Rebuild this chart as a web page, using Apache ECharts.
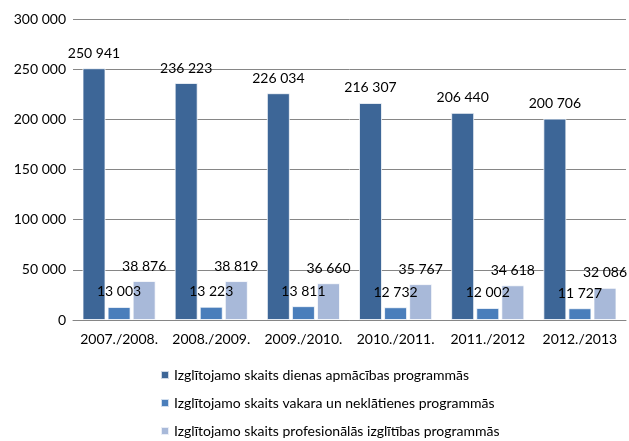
<!DOCTYPE html>
<html>
<head>
<meta charset="utf-8">
<script src="https://cdn.jsdelivr.net/npm/echarts@6/dist/echarts.min.js"></script>
<style>
  html, body { margin: 0; padding: 0; background: #ffffff; }
  #chart { width: 629px; height: 441px; }
</style>
</head>
<body>
<div id="chart"></div>
<script>
// macību gadi
const years = ["2007./2008.", "2008./2009.", "2009./2010.", "2010./2011.", "2011./2012", "2012./2013"];
// dienas apmācības programmas
const dienas = [250941, 236223, 226034, 216307, 206440, 200706];
// vakara un neklātienes programmas
const vakara = [13003, 13223, 13811, 12732, 12002, 11727];
// profesionālās izglītības programmas
const prof = [38876, 38819, 36660, 35767, 34618, 32086];

const names = [
  "Izglītojamo skaits dienas apmācības programmās",
  "Izglītojamo skaits vakara un neklātienes programmās",
  "Izglītojamo skaits profesionālās izglītības programmās"
];

function fmt(v) {
  return String(v).replace(/\B(?=(\d{3})+(?!\d))/g, " ");
}

let chart = echarts.init(document.getElementById("chart"));

function bar(name, data, color) {
  return {
    name: name,
    type: "bar",
    data: data,
    barWidth: 23,
    barGap: "9%",
    itemStyle: {
      color: color,
      borderColor: "rgba(255,255,255,0.75)",
      borderWidth: 1
    },
    label: {
      show: true,
      position: "top",
      distance: 8,
      color: "#000",
      fontFamily: "Lato",
      fontSize: 14,
      formatter: p => fmt(p.value)
    }
  };
}

chart.setOption({
  animation: false,
  textStyle: { fontFamily: "Lato" },
  grid: { left: 73, right: 3, top: 19, bottom: 121 },
  legend: {
    orient: "vertical",
    left: 155,
    top: 363,
    height: 80,
    itemWidth: 8,
    itemHeight: 8,
    itemGap: 14,
    icon: "rect",
    textStyle: { fontFamily: "Lato", fontSize: 14, color: "#000" },
    data: names
  },
  xAxis: {
    type: "category",
    data: years,
    axisLine: { lineStyle: { color: "#868686" } },
    axisTick: { show: false },
    axisLabel: { color: "#000", fontSize: 14, fontFamily: "Lato", margin: 12, interval: 0 }
  },
  yAxis: {
    type: "value",
    min: 0,
    max: 300000,
    interval: 50000,
    axisLine: { show: false },
    axisTick: { show: false },
    splitLine: { lineStyle: { color: "#868686" } },
    axisLabel: { color: "#000", fontSize: 14, fontFamily: "Lato", margin: 7, formatter: v => fmt(v) }
  },
  series: [
    bar(names[0], dienas, "#3D6697"),
    bar(names[1], vakara, "#4A7EBB"),
    bar(names[2], prof, "#A8B9D9")
  ]
});
</script>
</body>
</html>
